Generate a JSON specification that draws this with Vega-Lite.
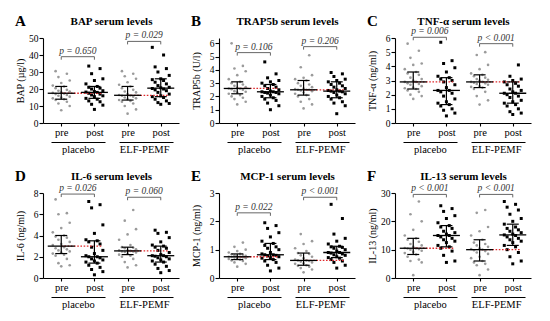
{
"$schema":"https://vega.github.io/schema/vega-lite/v6.json",
"padding":{"left":15,"top":14,"right":5,"bottom":5},
"columns":3,
"spacing":{"row":14,"column":12},
"datasets":{
"stats":[
{"p":"A","t":"placebo","s":"pre","med":17.5,"lo":14,"hi":21.5},{"p":"A","t":"placebo","s":"post","med":18,"lo":14.5,"hi":21.5},{"p":"A","t":"ELF","s":"pre","med":16.3,"lo":13.5,"hi":21.5},{"p":"A","t":"ELF","s":"post","med":20.5,"lo":15.5,"hi":26},
{"p":"B","t":"placebo","s":"pre","med":2.6,"lo":2.2,"hi":3.1},{"p":"B","t":"placebo","s":"post","med":2.35,"lo":1.9,"hi":2.9},{"p":"B","t":"ELF","s":"pre","med":2.5,"lo":2.1,"hi":3.2},{"p":"B","t":"ELF","s":"post","med":2.4,"lo":1.9,"hi":3.1},
{"p":"C","t":"placebo","s":"pre","med":2.9,"lo":2.4,"hi":3.6},{"p":"C","t":"placebo","s":"post","med":2.3,"lo":1.3,"hi":3.2},{"p":"C","t":"ELF","s":"pre","med":2.9,"lo":2.5,"hi":3.4},{"p":"C","t":"ELF","s":"post","med":2.1,"lo":1.4,"hi":2.9},
{"p":"D","t":"placebo","s":"pre","med":3.0,"lo":2.3,"hi":4.0},{"p":"D","t":"placebo","s":"post","med":2.0,"lo":1.4,"hi":3.5},{"p":"D","t":"ELF","s":"pre","med":2.55,"lo":2.2,"hi":2.9},{"p":"D","t":"ELF","s":"post","med":2.1,"lo":1.5,"hi":3.0},
{"p":"E","t":"placebo","s":"pre","med":0.75,"lo":0.65,"hi":0.85},{"p":"E","t":"placebo","s":"post","med":0.82,"lo":0.65,"hi":1.22},{"p":"E","t":"ELF","s":"pre","med":0.62,"lo":0.45,"hi":0.88},{"p":"E","t":"ELF","s":"post","med":0.9,"lo":0.72,"hi":1.12},
{"p":"F","t":"placebo","s":"pre","med":10.5,"lo":8.3,"hi":14},{"p":"F","t":"placebo","s":"post","med":15,"lo":11,"hi":18.5},{"p":"F","t":"ELF","s":"pre","med":10,"lo":6,"hi":13.5},{"p":"F","t":"ELF","s":"post","med":15.2,"lo":11.5,"hi":19}
],
"pv":[
{"p":"A","t":"placebo","label":"p = 0.650","yb":39},{"p":"A","t":"ELF","label":"p = 0.029","yb":48},
{"p":"B","t":"placebo","label":"p = 0.106","yb":5.3},{"p":"B","t":"ELF","label":"p = 0.206","yb":5.75},
{"p":"C","t":"placebo","label":"p = 0.006","yb":6.05},{"p":"C","t":"ELF","label":"p < 0.001","yb":5.6},
{"p":"D","t":"placebo","label":"p = 0.026","yb":7.9},{"p":"D","t":"ELF","label":"p = 0.060","yb":7.6},
{"p":"E","t":"placebo","label":"p = 0.022","yb":2.3},{"p":"E","t":"ELF","label":"p < 0.001","yb":2.85},
{"p":"F","t":"placebo","label":"p < 0.001","yb":29.5},{"p":"F","t":"ELF","label":"p < 0.001","yb":29.5}
],
"pts":[
{"p":"A","t":"placebo","s":"pre","v":7.5},{"p":"A","t":"placebo","s":"pre","v":10},{"p":"A","t":"placebo","s":"pre","v":11.5},{"p":"A","t":"placebo","s":"pre","v":12.5},{"p":"A","t":"placebo","s":"pre","v":13.5},{"p":"A","t":"placebo","s":"pre","v":14},{"p":"A","t":"placebo","s":"pre","v":14.5},{"p":"A","t":"placebo","s":"pre","v":15},{"p":"A","t":"placebo","s":"pre","v":15.5},{"p":"A","t":"placebo","s":"pre","v":16},{"p":"A","t":"placebo","s":"pre","v":16.5},{"p":"A","t":"placebo","s":"pre","v":17},{"p":"A","t":"placebo","s":"pre","v":17.3},{"p":"A","t":"placebo","s":"pre","v":17.7},{"p":"A","t":"placebo","s":"pre","v":18},{"p":"A","t":"placebo","s":"pre","v":18.5},{"p":"A","t":"placebo","s":"pre","v":19},{"p":"A","t":"placebo","s":"pre","v":19.5},{"p":"A","t":"placebo","s":"pre","v":20.5},{"p":"A","t":"placebo","s":"pre","v":21.5},{"p":"A","t":"placebo","s":"pre","v":22},{"p":"A","t":"placebo","s":"pre","v":23.5},{"p":"A","t":"placebo","s":"pre","v":25},{"p":"A","t":"placebo","s":"pre","v":27},{"p":"A","t":"placebo","s":"pre","v":29},{"p":"A","t":"placebo","s":"pre","v":30.5},
{"p":"A","t":"placebo","s":"post","v":8},{"p":"A","t":"placebo","s":"post","v":10.5},{"p":"A","t":"placebo","s":"post","v":11},{"p":"A","t":"placebo","s":"post","v":12.5},{"p":"A","t":"placebo","s":"post","v":13},{"p":"A","t":"placebo","s":"post","v":14},{"p":"A","t":"placebo","s":"post","v":14.5},{"p":"A","t":"placebo","s":"post","v":15.5},{"p":"A","t":"placebo","s":"post","v":16},{"p":"A","t":"placebo","s":"post","v":16.5},{"p":"A","t":"placebo","s":"post","v":17},{"p":"A","t":"placebo","s":"post","v":17.5},{"p":"A","t":"placebo","s":"post","v":18},{"p":"A","t":"placebo","s":"post","v":18.2},{"p":"A","t":"placebo","s":"post","v":18.5},{"p":"A","t":"placebo","s":"post","v":19},{"p":"A","t":"placebo","s":"post","v":20},{"p":"A","t":"placebo","s":"post","v":20.5},{"p":"A","t":"placebo","s":"post","v":21},{"p":"A","t":"placebo","s":"post","v":21.5},{"p":"A","t":"placebo","s":"post","v":23},{"p":"A","t":"placebo","s":"post","v":25},{"p":"A","t":"placebo","s":"post","v":26},{"p":"A","t":"placebo","s":"post","v":29},{"p":"A","t":"placebo","s":"post","v":32},{"p":"A","t":"placebo","s":"post","v":33.5},
{"p":"A","t":"ELF","s":"pre","v":5.5},{"p":"A","t":"ELF","s":"pre","v":8},{"p":"A","t":"ELF","s":"pre","v":10},{"p":"A","t":"ELF","s":"pre","v":11.5},{"p":"A","t":"ELF","s":"pre","v":12.5},{"p":"A","t":"ELF","s":"pre","v":13},{"p":"A","t":"ELF","s":"pre","v":13.5},{"p":"A","t":"ELF","s":"pre","v":14},{"p":"A","t":"ELF","s":"pre","v":14.5},{"p":"A","t":"ELF","s":"pre","v":15},{"p":"A","t":"ELF","s":"pre","v":15.5},{"p":"A","t":"ELF","s":"pre","v":16},{"p":"A","t":"ELF","s":"pre","v":16.2},{"p":"A","t":"ELF","s":"pre","v":16.5},{"p":"A","t":"ELF","s":"pre","v":17},{"p":"A","t":"ELF","s":"pre","v":18},{"p":"A","t":"ELF","s":"pre","v":18.5},{"p":"A","t":"ELF","s":"pre","v":19.5},{"p":"A","t":"ELF","s":"pre","v":20.5},{"p":"A","t":"ELF","s":"pre","v":21.5},{"p":"A","t":"ELF","s":"pre","v":22.5},{"p":"A","t":"ELF","s":"pre","v":24},{"p":"A","t":"ELF","s":"pre","v":26},{"p":"A","t":"ELF","s":"pre","v":27.5},{"p":"A","t":"ELF","s":"pre","v":29},{"p":"A","t":"ELF","s":"pre","v":30.5},
{"p":"A","t":"ELF","s":"post","v":11},{"p":"A","t":"ELF","s":"post","v":11.5},{"p":"A","t":"ELF","s":"post","v":12},{"p":"A","t":"ELF","s":"post","v":13},{"p":"A","t":"ELF","s":"post","v":14},{"p":"A","t":"ELF","s":"post","v":15},{"p":"A","t":"ELF","s":"post","v":15.5},{"p":"A","t":"ELF","s":"post","v":16},{"p":"A","t":"ELF","s":"post","v":17},{"p":"A","t":"ELF","s":"post","v":18},{"p":"A","t":"ELF","s":"post","v":19},{"p":"A","t":"ELF","s":"post","v":19.5},{"p":"A","t":"ELF","s":"post","v":20},{"p":"A","t":"ELF","s":"post","v":20.3},{"p":"A","t":"ELF","s":"post","v":20.7},{"p":"A","t":"ELF","s":"post","v":21},{"p":"A","t":"ELF","s":"post","v":22},{"p":"A","t":"ELF","s":"post","v":23},{"p":"A","t":"ELF","s":"post","v":24},{"p":"A","t":"ELF","s":"post","v":25},{"p":"A","t":"ELF","s":"post","v":25.5},{"p":"A","t":"ELF","s":"post","v":26},{"p":"A","t":"ELF","s":"post","v":28},{"p":"A","t":"ELF","s":"post","v":30},{"p":"A","t":"ELF","s":"post","v":32},{"p":"A","t":"ELF","s":"post","v":33},{"p":"A","t":"ELF","s":"post","v":40},{"p":"A","t":"ELF","s":"post","v":44.5},
{"p":"B","t":"placebo","s":"pre","v":1.4},{"p":"B","t":"placebo","s":"pre","v":1.6},{"p":"B","t":"placebo","s":"pre","v":1.8},{"p":"B","t":"placebo","s":"pre","v":1.9},{"p":"B","t":"placebo","s":"pre","v":2.0},{"p":"B","t":"placebo","s":"pre","v":2.1},{"p":"B","t":"placebo","s":"pre","v":2.2},{"p":"B","t":"placebo","s":"pre","v":2.3},{"p":"B","t":"placebo","s":"pre","v":2.35},{"p":"B","t":"placebo","s":"pre","v":2.4},{"p":"B","t":"placebo","s":"pre","v":2.5},{"p":"B","t":"placebo","s":"pre","v":2.55},{"p":"B","t":"placebo","s":"pre","v":2.6},{"p":"B","t":"placebo","s":"pre","v":2.6},{"p":"B","t":"placebo","s":"pre","v":2.65},{"p":"B","t":"placebo","s":"pre","v":2.7},{"p":"B","t":"placebo","s":"pre","v":2.8},{"p":"B","t":"placebo","s":"pre","v":2.9},{"p":"B","t":"placebo","s":"pre","v":3.0},{"p":"B","t":"placebo","s":"pre","v":3.1},{"p":"B","t":"placebo","s":"pre","v":3.3},{"p":"B","t":"placebo","s":"pre","v":3.6},{"p":"B","t":"placebo","s":"pre","v":3.9},{"p":"B","t":"placebo","s":"pre","v":4.1},{"p":"B","t":"placebo","s":"pre","v":4.3},{"p":"B","t":"placebo","s":"pre","v":6.0},
{"p":"B","t":"placebo","s":"post","v":1.0},{"p":"B","t":"placebo","s":"post","v":1.3},{"p":"B","t":"placebo","s":"post","v":1.5},{"p":"B","t":"placebo","s":"post","v":1.7},{"p":"B","t":"placebo","s":"post","v":1.8},{"p":"B","t":"placebo","s":"post","v":1.9},{"p":"B","t":"placebo","s":"post","v":2.0},{"p":"B","t":"placebo","s":"post","v":2.1},{"p":"B","t":"placebo","s":"post","v":2.2},{"p":"B","t":"placebo","s":"post","v":2.25},{"p":"B","t":"placebo","s":"post","v":2.3},{"p":"B","t":"placebo","s":"post","v":2.3},{"p":"B","t":"placebo","s":"post","v":2.35},{"p":"B","t":"placebo","s":"post","v":2.35},{"p":"B","t":"placebo","s":"post","v":2.4},{"p":"B","t":"placebo","s":"post","v":2.5},{"p":"B","t":"placebo","s":"post","v":2.6},{"p":"B","t":"placebo","s":"post","v":2.7},{"p":"B","t":"placebo","s":"post","v":2.8},{"p":"B","t":"placebo","s":"post","v":2.9},{"p":"B","t":"placebo","s":"post","v":3.0},{"p":"B","t":"placebo","s":"post","v":3.1},{"p":"B","t":"placebo","s":"post","v":3.2},{"p":"B","t":"placebo","s":"post","v":3.4},{"p":"B","t":"placebo","s":"post","v":3.7},{"p":"B","t":"placebo","s":"post","v":4.6},
{"p":"B","t":"ELF","s":"pre","v":1.1},{"p":"B","t":"ELF","s":"pre","v":1.4},{"p":"B","t":"ELF","s":"pre","v":1.6},{"p":"B","t":"ELF","s":"pre","v":1.8},{"p":"B","t":"ELF","s":"pre","v":2.0},{"p":"B","t":"ELF","s":"pre","v":2.1},{"p":"B","t":"ELF","s":"pre","v":2.2},{"p":"B","t":"ELF","s":"pre","v":2.3},{"p":"B","t":"ELF","s":"pre","v":2.4},{"p":"B","t":"ELF","s":"pre","v":2.45},{"p":"B","t":"ELF","s":"pre","v":2.5},{"p":"B","t":"ELF","s":"pre","v":2.5},{"p":"B","t":"ELF","s":"pre","v":2.5},{"p":"B","t":"ELF","s":"pre","v":2.55},{"p":"B","t":"ELF","s":"pre","v":2.6},{"p":"B","t":"ELF","s":"pre","v":2.7},{"p":"B","t":"ELF","s":"pre","v":2.8},{"p":"B","t":"ELF","s":"pre","v":2.9},{"p":"B","t":"ELF","s":"pre","v":3.0},{"p":"B","t":"ELF","s":"pre","v":3.2},{"p":"B","t":"ELF","s":"pre","v":3.3},{"p":"B","t":"ELF","s":"pre","v":3.4},{"p":"B","t":"ELF","s":"pre","v":3.6},{"p":"B","t":"ELF","s":"pre","v":4.2},{"p":"B","t":"ELF","s":"pre","v":5.1},
{"p":"B","t":"ELF","s":"post","v":0.7},{"p":"B","t":"ELF","s":"post","v":1.3},{"p":"B","t":"ELF","s":"post","v":1.5},{"p":"B","t":"ELF","s":"post","v":1.6},{"p":"B","t":"ELF","s":"post","v":1.8},{"p":"B","t":"ELF","s":"post","v":1.9},{"p":"B","t":"ELF","s":"post","v":2.0},{"p":"B","t":"ELF","s":"post","v":2.1},{"p":"B","t":"ELF","s":"post","v":2.2},{"p":"B","t":"ELF","s":"post","v":2.3},{"p":"B","t":"ELF","s":"post","v":2.35},{"p":"B","t":"ELF","s":"post","v":2.4},{"p":"B","t":"ELF","s":"post","v":2.4},{"p":"B","t":"ELF","s":"post","v":2.45},{"p":"B","t":"ELF","s":"post","v":2.5},{"p":"B","t":"ELF","s":"post","v":2.6},{"p":"B","t":"ELF","s":"post","v":2.7},{"p":"B","t":"ELF","s":"post","v":2.8},{"p":"B","t":"ELF","s":"post","v":2.9},{"p":"B","t":"ELF","s":"post","v":3.0},{"p":"B","t":"ELF","s":"post","v":3.1},{"p":"B","t":"ELF","s":"post","v":3.2},{"p":"B","t":"ELF","s":"post","v":3.3},{"p":"B","t":"ELF","s":"post","v":3.5},{"p":"B","t":"ELF","s":"post","v":3.7},{"p":"B","t":"ELF","s":"post","v":3.8},
{"p":"C","t":"placebo","s":"pre","v":1.7},{"p":"C","t":"placebo","s":"pre","v":1.9},{"p":"C","t":"placebo","s":"pre","v":2.0},{"p":"C","t":"placebo","s":"pre","v":2.2},{"p":"C","t":"placebo","s":"pre","v":2.3},{"p":"C","t":"placebo","s":"pre","v":2.4},{"p":"C","t":"placebo","s":"pre","v":2.45},{"p":"C","t":"placebo","s":"pre","v":2.5},{"p":"C","t":"placebo","s":"pre","v":2.6},{"p":"C","t":"placebo","s":"pre","v":2.7},{"p":"C","t":"placebo","s":"pre","v":2.75},{"p":"C","t":"placebo","s":"pre","v":2.8},{"p":"C","t":"placebo","s":"pre","v":2.9},{"p":"C","t":"placebo","s":"pre","v":2.9},{"p":"C","t":"placebo","s":"pre","v":3.0},{"p":"C","t":"placebo","s":"pre","v":3.1},{"p":"C","t":"placebo","s":"pre","v":3.2},{"p":"C","t":"placebo","s":"pre","v":3.4},{"p":"C","t":"placebo","s":"pre","v":3.5},{"p":"C","t":"placebo","s":"pre","v":3.6},{"p":"C","t":"placebo","s":"pre","v":3.8},{"p":"C","t":"placebo","s":"pre","v":4.1},{"p":"C","t":"placebo","s":"pre","v":4.2},{"p":"C","t":"placebo","s":"pre","v":4.6},{"p":"C","t":"placebo","s":"pre","v":5.1},{"p":"C","t":"placebo","s":"pre","v":5.6},
{"p":"C","t":"placebo","s":"post","v":0.5},{"p":"C","t":"placebo","s":"post","v":0.7},{"p":"C","t":"placebo","s":"post","v":0.9},{"p":"C","t":"placebo","s":"post","v":1.0},{"p":"C","t":"placebo","s":"post","v":1.2},{"p":"C","t":"placebo","s":"post","v":1.3},{"p":"C","t":"placebo","s":"post","v":1.4},{"p":"C","t":"placebo","s":"post","v":1.5},{"p":"C","t":"placebo","s":"post","v":1.7},{"p":"C","t":"placebo","s":"post","v":1.9},{"p":"C","t":"placebo","s":"post","v":2.1},{"p":"C","t":"placebo","s":"post","v":2.2},{"p":"C","t":"placebo","s":"post","v":2.3},{"p":"C","t":"placebo","s":"post","v":2.3},{"p":"C","t":"placebo","s":"post","v":2.5},{"p":"C","t":"placebo","s":"post","v":2.7},{"p":"C","t":"placebo","s":"post","v":2.9},{"p":"C","t":"placebo","s":"post","v":3.0},{"p":"C","t":"placebo","s":"post","v":3.1},{"p":"C","t":"placebo","s":"post","v":3.2},{"p":"C","t":"placebo","s":"post","v":3.3},{"p":"C","t":"placebo","s":"post","v":3.6},{"p":"C","t":"placebo","s":"post","v":3.9},{"p":"C","t":"placebo","s":"post","v":4.2},{"p":"C","t":"placebo","s":"post","v":4.4},{"p":"C","t":"placebo","s":"post","v":5.7},
{"p":"C","t":"ELF","s":"pre","v":1.3},{"p":"C","t":"ELF","s":"pre","v":1.6},{"p":"C","t":"ELF","s":"pre","v":1.9},{"p":"C","t":"ELF","s":"pre","v":2.2},{"p":"C","t":"ELF","s":"pre","v":2.4},{"p":"C","t":"ELF","s":"pre","v":2.5},{"p":"C","t":"ELF","s":"pre","v":2.55},{"p":"C","t":"ELF","s":"pre","v":2.6},{"p":"C","t":"ELF","s":"pre","v":2.7},{"p":"C","t":"ELF","s":"pre","v":2.75},{"p":"C","t":"ELF","s":"pre","v":2.8},{"p":"C","t":"ELF","s":"pre","v":2.85},{"p":"C","t":"ELF","s":"pre","v":2.9},{"p":"C","t":"ELF","s":"pre","v":2.9},{"p":"C","t":"ELF","s":"pre","v":3.0},{"p":"C","t":"ELF","s":"pre","v":3.05},{"p":"C","t":"ELF","s":"pre","v":3.1},{"p":"C","t":"ELF","s":"pre","v":3.2},{"p":"C","t":"ELF","s":"pre","v":3.3},{"p":"C","t":"ELF","s":"pre","v":3.4},{"p":"C","t":"ELF","s":"pre","v":3.5},{"p":"C","t":"ELF","s":"pre","v":3.8},{"p":"C","t":"ELF","s":"pre","v":4.1},{"p":"C","t":"ELF","s":"pre","v":4.8},{"p":"C","t":"ELF","s":"pre","v":5.0},
{"p":"C","t":"ELF","s":"post","v":0.6},{"p":"C","t":"ELF","s":"post","v":0.7},{"p":"C","t":"ELF","s":"post","v":0.8},{"p":"C","t":"ELF","s":"post","v":1.0},{"p":"C","t":"ELF","s":"post","v":1.2},{"p":"C","t":"ELF","s":"post","v":1.3},{"p":"C","t":"ELF","s":"post","v":1.4},{"p":"C","t":"ELF","s":"post","v":1.5},{"p":"C","t":"ELF","s":"post","v":1.6},{"p":"C","t":"ELF","s":"post","v":1.8},{"p":"C","t":"ELF","s":"post","v":1.9},{"p":"C","t":"ELF","s":"post","v":2.0},{"p":"C","t":"ELF","s":"post","v":2.1},{"p":"C","t":"ELF","s":"post","v":2.1},{"p":"C","t":"ELF","s":"post","v":2.2},{"p":"C","t":"ELF","s":"post","v":2.3},{"p":"C","t":"ELF","s":"post","v":2.4},{"p":"C","t":"ELF","s":"post","v":2.6},{"p":"C","t":"ELF","s":"post","v":2.7},{"p":"C","t":"ELF","s":"post","v":2.8},{"p":"C","t":"ELF","s":"post","v":2.9},{"p":"C","t":"ELF","s":"post","v":3.0},{"p":"C","t":"ELF","s":"post","v":3.1},{"p":"C","t":"ELF","s":"post","v":3.3},{"p":"C","t":"ELF","s":"post","v":4.1},
{"p":"D","t":"placebo","s":"pre","v":1.1},{"p":"D","t":"placebo","s":"pre","v":1.2},{"p":"D","t":"placebo","s":"pre","v":1.4},{"p":"D","t":"placebo","s":"pre","v":1.8},{"p":"D","t":"placebo","s":"pre","v":2.1},{"p":"D","t":"placebo","s":"pre","v":2.2},{"p":"D","t":"placebo","s":"pre","v":2.3},{"p":"D","t":"placebo","s":"pre","v":2.4},{"p":"D","t":"placebo","s":"pre","v":2.5},{"p":"D","t":"placebo","s":"pre","v":2.6},{"p":"D","t":"placebo","s":"pre","v":2.7},{"p":"D","t":"placebo","s":"pre","v":2.8},{"p":"D","t":"placebo","s":"pre","v":2.9},{"p":"D","t":"placebo","s":"pre","v":3.1},{"p":"D","t":"placebo","s":"pre","v":3.2},{"p":"D","t":"placebo","s":"pre","v":3.4},{"p":"D","t":"placebo","s":"pre","v":3.6},{"p":"D","t":"placebo","s":"pre","v":3.8},{"p":"D","t":"placebo","s":"pre","v":3.9},{"p":"D","t":"placebo","s":"pre","v":4.0},{"p":"D","t":"placebo","s":"pre","v":4.3},{"p":"D","t":"placebo","s":"pre","v":4.7},{"p":"D","t":"placebo","s":"pre","v":5.2},{"p":"D","t":"placebo","s":"pre","v":6.0},{"p":"D","t":"placebo","s":"pre","v":6.1},{"p":"D","t":"placebo","s":"pre","v":7.4},
{"p":"D","t":"placebo","s":"post","v":0.3},{"p":"D","t":"placebo","s":"post","v":0.6},{"p":"D","t":"placebo","s":"post","v":0.8},{"p":"D","t":"placebo","s":"post","v":1.0},{"p":"D","t":"placebo","s":"post","v":1.2},{"p":"D","t":"placebo","s":"post","v":1.4},{"p":"D","t":"placebo","s":"post","v":1.5},{"p":"D","t":"placebo","s":"post","v":1.6},{"p":"D","t":"placebo","s":"post","v":1.7},{"p":"D","t":"placebo","s":"post","v":1.8},{"p":"D","t":"placebo","s":"post","v":1.9},{"p":"D","t":"placebo","s":"post","v":2.0},{"p":"D","t":"placebo","s":"post","v":2.0},{"p":"D","t":"placebo","s":"post","v":2.1},{"p":"D","t":"placebo","s":"post","v":2.3},{"p":"D","t":"placebo","s":"post","v":2.6},{"p":"D","t":"placebo","s":"post","v":2.9},{"p":"D","t":"placebo","s":"post","v":3.2},{"p":"D","t":"placebo","s":"post","v":3.4},{"p":"D","t":"placebo","s":"post","v":3.5},{"p":"D","t":"placebo","s":"post","v":3.6},{"p":"D","t":"placebo","s":"post","v":4.2},{"p":"D","t":"placebo","s":"post","v":5.0},{"p":"D","t":"placebo","s":"post","v":6.6},{"p":"D","t":"placebo","s":"post","v":6.9},{"p":"D","t":"placebo","s":"post","v":7.2},
{"p":"D","t":"ELF","s":"pre","v":1.0},{"p":"D","t":"ELF","s":"pre","v":1.2},{"p":"D","t":"ELF","s":"pre","v":1.5},{"p":"D","t":"ELF","s":"pre","v":1.8},{"p":"D","t":"ELF","s":"pre","v":2.0},{"p":"D","t":"ELF","s":"pre","v":2.1},{"p":"D","t":"ELF","s":"pre","v":2.2},{"p":"D","t":"ELF","s":"pre","v":2.3},{"p":"D","t":"ELF","s":"pre","v":2.4},{"p":"D","t":"ELF","s":"pre","v":2.45},{"p":"D","t":"ELF","s":"pre","v":2.5},{"p":"D","t":"ELF","s":"pre","v":2.5},{"p":"D","t":"ELF","s":"pre","v":2.55},{"p":"D","t":"ELF","s":"pre","v":2.6},{"p":"D","t":"ELF","s":"pre","v":2.6},{"p":"D","t":"ELF","s":"pre","v":2.7},{"p":"D","t":"ELF","s":"pre","v":2.8},{"p":"D","t":"ELF","s":"pre","v":2.85},{"p":"D","t":"ELF","s":"pre","v":2.9},{"p":"D","t":"ELF","s":"pre","v":3.1},{"p":"D","t":"ELF","s":"pre","v":3.6},{"p":"D","t":"ELF","s":"pre","v":4.1},{"p":"D","t":"ELF","s":"pre","v":4.6},{"p":"D","t":"ELF","s":"pre","v":5.4},{"p":"D","t":"ELF","s":"pre","v":6.4},
{"p":"D","t":"ELF","s":"post","v":0.5},{"p":"D","t":"ELF","s":"post","v":0.7},{"p":"D","t":"ELF","s":"post","v":0.9},{"p":"D","t":"ELF","s":"post","v":1.1},{"p":"D","t":"ELF","s":"post","v":1.3},{"p":"D","t":"ELF","s":"post","v":1.5},{"p":"D","t":"ELF","s":"post","v":1.6},{"p":"D","t":"ELF","s":"post","v":1.7},{"p":"D","t":"ELF","s":"post","v":1.8},{"p":"D","t":"ELF","s":"post","v":1.9},{"p":"D","t":"ELF","s":"post","v":2.0},{"p":"D","t":"ELF","s":"post","v":2.05},{"p":"D","t":"ELF","s":"post","v":2.1},{"p":"D","t":"ELF","s":"post","v":2.1},{"p":"D","t":"ELF","s":"post","v":2.2},{"p":"D","t":"ELF","s":"post","v":2.4},{"p":"D","t":"ELF","s":"post","v":2.6},{"p":"D","t":"ELF","s":"post","v":2.8},{"p":"D","t":"ELF","s":"post","v":2.9},{"p":"D","t":"ELF","s":"post","v":3.0},{"p":"D","t":"ELF","s":"post","v":3.1},{"p":"D","t":"ELF","s":"post","v":3.4},{"p":"D","t":"ELF","s":"post","v":3.8},{"p":"D","t":"ELF","s":"post","v":4.2},{"p":"D","t":"ELF","s":"post","v":4.3},{"p":"D","t":"ELF","s":"post","v":4.5},
{"p":"E","t":"placebo","s":"pre","v":0.4},{"p":"E","t":"placebo","s":"pre","v":0.5},{"p":"E","t":"placebo","s":"pre","v":0.55},{"p":"E","t":"placebo","s":"pre","v":0.6},{"p":"E","t":"placebo","s":"pre","v":0.62},{"p":"E","t":"placebo","s":"pre","v":0.65},{"p":"E","t":"placebo","s":"pre","v":0.67},{"p":"E","t":"placebo","s":"pre","v":0.68},{"p":"E","t":"placebo","s":"pre","v":0.7},{"p":"E","t":"placebo","s":"pre","v":0.72},{"p":"E","t":"placebo","s":"pre","v":0.73},{"p":"E","t":"placebo","s":"pre","v":0.74},{"p":"E","t":"placebo","s":"pre","v":0.75},{"p":"E","t":"placebo","s":"pre","v":0.75},{"p":"E","t":"placebo","s":"pre","v":0.76},{"p":"E","t":"placebo","s":"pre","v":0.78},{"p":"E","t":"placebo","s":"pre","v":0.8},{"p":"E","t":"placebo","s":"pre","v":0.82},{"p":"E","t":"placebo","s":"pre","v":0.84},{"p":"E","t":"placebo","s":"pre","v":0.85},{"p":"E","t":"placebo","s":"pre","v":0.9},{"p":"E","t":"placebo","s":"pre","v":0.95},{"p":"E","t":"placebo","s":"pre","v":1.0},{"p":"E","t":"placebo","s":"pre","v":1.1},{"p":"E","t":"placebo","s":"pre","v":1.25},
{"p":"E","t":"placebo","s":"post","v":0.25},{"p":"E","t":"placebo","s":"post","v":0.35},{"p":"E","t":"placebo","s":"post","v":0.45},{"p":"E","t":"placebo","s":"post","v":0.55},{"p":"E","t":"placebo","s":"post","v":0.6},{"p":"E","t":"placebo","s":"post","v":0.65},{"p":"E","t":"placebo","s":"post","v":0.7},{"p":"E","t":"placebo","s":"post","v":0.72},{"p":"E","t":"placebo","s":"post","v":0.75},{"p":"E","t":"placebo","s":"post","v":0.78},{"p":"E","t":"placebo","s":"post","v":0.8},{"p":"E","t":"placebo","s":"post","v":0.82},{"p":"E","t":"placebo","s":"post","v":0.82},{"p":"E","t":"placebo","s":"post","v":0.85},{"p":"E","t":"placebo","s":"post","v":0.9},{"p":"E","t":"placebo","s":"post","v":1.0},{"p":"E","t":"placebo","s":"post","v":1.05},{"p":"E","t":"placebo","s":"post","v":1.1},{"p":"E","t":"placebo","s":"post","v":1.15},{"p":"E","t":"placebo","s":"post","v":1.22},{"p":"E","t":"placebo","s":"post","v":1.3},{"p":"E","t":"placebo","s":"post","v":1.45},{"p":"E","t":"placebo","s":"post","v":1.6},{"p":"E","t":"placebo","s":"post","v":1.75},{"p":"E","t":"placebo","s":"post","v":1.85},{"p":"E","t":"placebo","s":"post","v":1.95},
{"p":"E","t":"ELF","s":"pre","v":0.2},{"p":"E","t":"ELF","s":"pre","v":0.3},{"p":"E","t":"ELF","s":"pre","v":0.35},{"p":"E","t":"ELF","s":"pre","v":0.4},{"p":"E","t":"ELF","s":"pre","v":0.43},{"p":"E","t":"ELF","s":"pre","v":0.45},{"p":"E","t":"ELF","s":"pre","v":0.5},{"p":"E","t":"ELF","s":"pre","v":0.52},{"p":"E","t":"ELF","s":"pre","v":0.55},{"p":"E","t":"ELF","s":"pre","v":0.58},{"p":"E","t":"ELF","s":"pre","v":0.6},{"p":"E","t":"ELF","s":"pre","v":0.62},{"p":"E","t":"ELF","s":"pre","v":0.62},{"p":"E","t":"ELF","s":"pre","v":0.65},{"p":"E","t":"ELF","s":"pre","v":0.7},{"p":"E","t":"ELF","s":"pre","v":0.75},{"p":"E","t":"ELF","s":"pre","v":0.8},{"p":"E","t":"ELF","s":"pre","v":0.85},{"p":"E","t":"ELF","s":"pre","v":0.88},{"p":"E","t":"ELF","s":"pre","v":0.95},{"p":"E","t":"ELF","s":"pre","v":1.05},{"p":"E","t":"ELF","s":"pre","v":1.2},{"p":"E","t":"ELF","s":"pre","v":1.3},{"p":"E","t":"ELF","s":"pre","v":1.55},
{"p":"E","t":"ELF","s":"post","v":0.35},{"p":"E","t":"ELF","s":"post","v":0.45},{"p":"E","t":"ELF","s":"post","v":0.55},{"p":"E","t":"ELF","s":"post","v":0.6},{"p":"E","t":"ELF","s":"post","v":0.65},{"p":"E","t":"ELF","s":"post","v":0.7},{"p":"E","t":"ELF","s":"post","v":0.72},{"p":"E","t":"ELF","s":"post","v":0.75},{"p":"E","t":"ELF","s":"post","v":0.8},{"p":"E","t":"ELF","s":"post","v":0.82},{"p":"E","t":"ELF","s":"post","v":0.85},{"p":"E","t":"ELF","s":"post","v":0.88},{"p":"E","t":"ELF","s":"post","v":0.9},{"p":"E","t":"ELF","s":"post","v":0.9},{"p":"E","t":"ELF","s":"post","v":0.95},{"p":"E","t":"ELF","s":"post","v":1.0},{"p":"E","t":"ELF","s":"post","v":1.05},{"p":"E","t":"ELF","s":"post","v":1.08},{"p":"E","t":"ELF","s":"post","v":1.1},{"p":"E","t":"ELF","s":"post","v":1.12},{"p":"E","t":"ELF","s":"post","v":1.2},{"p":"E","t":"ELF","s":"post","v":1.3},{"p":"E","t":"ELF","s":"post","v":1.4},{"p":"E","t":"ELF","s":"post","v":1.55},{"p":"E","t":"ELF","s":"post","v":2.1},{"p":"E","t":"ELF","s":"post","v":2.6},
{"p":"F","t":"placebo","s":"pre","v":1},{"p":"F","t":"placebo","s":"pre","v":5.5},{"p":"F","t":"placebo","s":"pre","v":6},{"p":"F","t":"placebo","s":"pre","v":6.5},{"p":"F","t":"placebo","s":"pre","v":7.5},{"p":"F","t":"placebo","s":"pre","v":8.3},{"p":"F","t":"placebo","s":"pre","v":8.8},{"p":"F","t":"placebo","s":"pre","v":9.2},{"p":"F","t":"placebo","s":"pre","v":9.6},{"p":"F","t":"placebo","s":"pre","v":10},{"p":"F","t":"placebo","s":"pre","v":10.2},{"p":"F","t":"placebo","s":"pre","v":10.4},{"p":"F","t":"placebo","s":"pre","v":10.5},{"p":"F","t":"placebo","s":"pre","v":10.6},{"p":"F","t":"placebo","s":"pre","v":11},{"p":"F","t":"placebo","s":"pre","v":11.5},{"p":"F","t":"placebo","s":"pre","v":12},{"p":"F","t":"placebo","s":"pre","v":12.8},{"p":"F","t":"placebo","s":"pre","v":13.5},{"p":"F","t":"placebo","s":"pre","v":14},{"p":"F","t":"placebo","s":"pre","v":15},{"p":"F","t":"placebo","s":"pre","v":17},{"p":"F","t":"placebo","s":"pre","v":20},{"p":"F","t":"placebo","s":"pre","v":22.5},{"p":"F","t":"placebo","s":"pre","v":27},
{"p":"F","t":"placebo","s":"post","v":5.5},{"p":"F","t":"placebo","s":"post","v":6},{"p":"F","t":"placebo","s":"post","v":8},{"p":"F","t":"placebo","s":"post","v":9.5},{"p":"F","t":"placebo","s":"post","v":10.5},{"p":"F","t":"placebo","s":"post","v":11},{"p":"F","t":"placebo","s":"post","v":11.5},{"p":"F","t":"placebo","s":"post","v":12.5},{"p":"F","t":"placebo","s":"post","v":13},{"p":"F","t":"placebo","s":"post","v":13.5},{"p":"F","t":"placebo","s":"post","v":14},{"p":"F","t":"placebo","s":"post","v":14.5},{"p":"F","t":"placebo","s":"post","v":15},{"p":"F","t":"placebo","s":"post","v":15},{"p":"F","t":"placebo","s":"post","v":15.5},{"p":"F","t":"placebo","s":"post","v":16},{"p":"F","t":"placebo","s":"post","v":16.5},{"p":"F","t":"placebo","s":"post","v":17.5},{"p":"F","t":"placebo","s":"post","v":18},{"p":"F","t":"placebo","s":"post","v":18.5},{"p":"F","t":"placebo","s":"post","v":19.5},{"p":"F","t":"placebo","s":"post","v":21},{"p":"F","t":"placebo","s":"post","v":22},{"p":"F","t":"placebo","s":"post","v":23.5},{"p":"F","t":"placebo","s":"post","v":24.5},{"p":"F","t":"placebo","s":"post","v":25.5},
{"p":"F","t":"ELF","s":"pre","v":1},{"p":"F","t":"ELF","s":"pre","v":3},{"p":"F","t":"ELF","s":"pre","v":4.5},{"p":"F","t":"ELF","s":"pre","v":5},{"p":"F","t":"ELF","s":"pre","v":5.5},{"p":"F","t":"ELF","s":"pre","v":6},{"p":"F","t":"ELF","s":"pre","v":7},{"p":"F","t":"ELF","s":"pre","v":7.5},{"p":"F","t":"ELF","s":"pre","v":8.5},{"p":"F","t":"ELF","s":"pre","v":9},{"p":"F","t":"ELF","s":"pre","v":9.5},{"p":"F","t":"ELF","s":"pre","v":9.8},{"p":"F","t":"ELF","s":"pre","v":10},{"p":"F","t":"ELF","s":"pre","v":10.2},{"p":"F","t":"ELF","s":"pre","v":10.5},{"p":"F","t":"ELF","s":"pre","v":11},{"p":"F","t":"ELF","s":"pre","v":11.5},{"p":"F","t":"ELF","s":"pre","v":12},{"p":"F","t":"ELF","s":"pre","v":12.5},{"p":"F","t":"ELF","s":"pre","v":13.5},{"p":"F","t":"ELF","s":"pre","v":15},{"p":"F","t":"ELF","s":"pre","v":16.5},{"p":"F","t":"ELF","s":"pre","v":18},{"p":"F","t":"ELF","s":"pre","v":23},{"p":"F","t":"ELF","s":"pre","v":24},
{"p":"F","t":"ELF","s":"post","v":5},{"p":"F","t":"ELF","s":"post","v":6},{"p":"F","t":"ELF","s":"post","v":7.5},{"p":"F","t":"ELF","s":"post","v":9},{"p":"F","t":"ELF","s":"post","v":10},{"p":"F","t":"ELF","s":"post","v":11},{"p":"F","t":"ELF","s":"post","v":11.5},{"p":"F","t":"ELF","s":"post","v":12.5},{"p":"F","t":"ELF","s":"post","v":13},{"p":"F","t":"ELF","s":"post","v":13.5},{"p":"F","t":"ELF","s":"post","v":14},{"p":"F","t":"ELF","s":"post","v":14.5},{"p":"F","t":"ELF","s":"post","v":15},{"p":"F","t":"ELF","s":"post","v":15.2},{"p":"F","t":"ELF","s":"post","v":15.5},{"p":"F","t":"ELF","s":"post","v":16},{"p":"F","t":"ELF","s":"post","v":16.5},{"p":"F","t":"ELF","s":"post","v":17},{"p":"F","t":"ELF","s":"post","v":17.5},{"p":"F","t":"ELF","s":"post","v":18},{"p":"F","t":"ELF","s":"post","v":19},{"p":"F","t":"ELF","s":"post","v":20},{"p":"F","t":"ELF","s":"post","v":21},{"p":"F","t":"ELF","s":"post","v":22.5},{"p":"F","t":"ELF","s":"post","v":24},{"p":"F","t":"ELF","s":"post","v":25},{"p":"F","t":"ELF","s":"post","v":26},{"p":"F","t":"ELF","s":"post","v":27}
]
},
"concat":[
{"title":"A","width":136,"height":85,"resolve":{"scale":{"x":"independent"}},
"layer":[
{"data":{"name":"pts"},"transform":[{"filter":"datum.p=='A'"},{"calculate":"(datum.t=='placebo'?0:2)+(datum.s=='post'?1:0)","as":"x"},{"window":[{"op":"row_number","as":"r"}],"groupby":["t","s"],"sort":[{"field":"v"}]},{"calculate":"datum.x+((datum.r*3)%7-3)*0.085","as":"xj"}],
"mark":{"type":"point","filled":true,"opacity":1},
"encoding":{"x":{"field":"xj","type":"quantitative","scale":{"domain":[-0.55,3.55],"nice":false,"zero":false},"axis":{"values":[0,1,2,3],"labelExpr":"datum.value%2==0?'pre':'post'","title":null,"tickSize":3,"labelPadding":1,"labelFontSize":10.5}},
"y":{"field":"v","type":"quantitative","scale":{"domain":[0,50],"nice":false},"axis":{"values":[0,10,20,30,40,50],"title":"BAP (µg/l)"}},
"color":{"field":"s","type":"nominal","scale":{"domain":["pre","post"],"range":["#9b9b9b","#000000"]},"legend":null},
"shape":{"field":"s","type":"nominal","scale":{"domain":["pre","post"],"range":["circle","square"]},"legend":null},
"size":{"field":"s","type":"ordinal","scale":{"domain":["pre","post"],"range":[7,9]},"legend":null}}},
{"data":{"name":"stats"},"transform":[{"filter":"datum.p=='A'"},{"calculate":"(datum.t=='placebo'?0:2)+(datum.s=='post'?1:0)","as":"x"}],
"layer":[
{"transform":[{"filter":"datum.s=='pre'"},{"calculate":"datum.x+1.25","as":"xe"}],"mark":{"type":"rule","color":"#e0282b","strokeDash":[1.6,1.6],"strokeWidth":1.3},"encoding":{"x":{"field":"x","type":"quantitative","scale":{"domain":[-0.55,3.55],"nice":false,"zero":false},"axis":null},"x2":{"field":"xe"},"y":{"field":"med","type":"quantitative","axis":{"values":[0,10,20,30,40,50],"title":"BAP (µg/l)"}}}},
{"mark":{"type":"rule","color":"#000","strokeWidth":1.2},"encoding":{"x":{"field":"x","type":"quantitative","axis":null},"y":{"field":"lo","type":"quantitative","axis":{"values":[0,10,20,30,40,50],"title":"BAP (µg/l)"}},"y2":{"field":"hi"}}},
{"transform":[{"fold":["lo","hi"],"as":["k","yv"]}],"mark":{"type":"tick","orient":"horizontal","size":12,"thickness":1.2,"color":"#000","opacity":1},"encoding":{"x":{"field":"x","type":"quantitative","axis":null},"y":{"field":"yv","type":"quantitative","axis":{"values":[0,10,20,30,40,50],"title":"BAP (µg/l)"}}}},
{"mark":{"type":"tick","orient":"horizontal","size":27,"thickness":1.3,"color":"#000","opacity":1},"encoding":{"x":{"field":"x","type":"quantitative","axis":null},"y":{"field":"med","type":"quantitative","axis":{"values":[0,10,20,30,40,50],"title":"BAP (µg/l)"}}}}
]},
{"data":{"name":"pv"},"transform":[{"filter":"datum.p=='A'"},{"calculate":"datum.t=='placebo'?0:2","as":"x0"},{"calculate":"datum.x0+1","as":"x1"},{"calculate":"datum.x0+0.5","as":"xm"}],
"layer":[
{"mark":{"type":"rule","color":"#555","strokeWidth":0.9},"encoding":{"x":{"field":"x0","type":"quantitative","scale":{"domain":[-0.55,3.55],"nice":false,"zero":false},"axis":null},"x2":{"field":"x1"},"y":{"field":"yb","type":"quantitative","axis":{"values":[0,10,20,30,40,50],"title":"BAP (µg/l)"}}}},
{"transform":[{"fold":["x0","x1"],"as":["k","xe"]}],"mark":{"type":"point","shape":"M0,0L0,1","size":36,"filled":false,"color":"#555","strokeWidth":0.9,"opacity":1},"encoding":{"x":{"field":"xe","type":"quantitative","axis":null},"y":{"field":"yb","type":"quantitative","axis":{"values":[0,10,20,30,40,50],"title":"BAP (µg/l)"}}}},
{"mark":{"type":"text","baseline":"bottom","dy":-1,"fontStyle":"italic","fontSize":9.5,"color":"#333"},"encoding":{"x":{"field":"xm","type":"quantitative","axis":null},"y":{"field":"yb","type":"quantitative","axis":{"values":[0,10,20,30,40,50],"title":"BAP (µg/l)"}},"text":{"field":"label"}}}
]},
{"data":{"name":"stats"},"transform":[{"filter":"datum.p=='A'"},{"calculate":"(datum.t=='placebo'?0:2)+(datum.s=='post'?1:0)","as":"x"}],"mark":{"type":"point","opacity":0},
"encoding":{"x":{"field":"x","type":"quantitative","scale":{"domain":[-0.55,3.55],"nice":false,"zero":false},"axis":{"orient":"bottom","offset":19,"values":[0.5,2.5],"labelExpr":"datum.value<1.5?'placebo':'ELF-PEMF'","title":null,"ticks":false,"domainDash":[54,14],"domainDashOffset":60,"labelPadding":2,"labelFontSize":10.5}},"y":{"field":"med","type":"quantitative","axis":{"values":[0,10,20,30,40,50],"title":"BAP (µg/l)"}}}},
{"data":{"name":"stats"},"transform":[{"filter":"datum.p=='A'"},{"calculate":"(datum.t=='placebo'?0:2)+(datum.s=='post'?1:0)","as":"x"}],"mark":{"type":"point","opacity":0},
"encoding":{"x":{"field":"x","type":"quantitative","scale":{"domain":[-0.55,3.55],"nice":false,"zero":false},"axis":{"orient":"top","labels":false,"ticks":false,"domain":false,"title":"BAP serum levels","titleFontWeight":"bold","titleFontSize":11,"titlePadding":12}},"y":{"field":"med","type":"quantitative","axis":{"values":[0,10,20,30,40,50],"title":"BAP (µg/l)"}}}}
]},
{"title":"B","width":136,"height":85,"resolve":{"scale":{"x":"independent"}},
"layer":[
{"data":{"name":"pts"},"transform":[{"filter":"datum.p=='B'"},{"calculate":"(datum.t=='placebo'?0:2)+(datum.s=='post'?1:0)","as":"x"},{"window":[{"op":"row_number","as":"r"}],"groupby":["t","s"],"sort":[{"field":"v"}]},{"calculate":"datum.x+((datum.r*3)%7-3)*0.085","as":"xj"}],
"mark":{"type":"point","filled":true,"opacity":1},
"encoding":{"x":{"field":"xj","type":"quantitative","scale":{"domain":[-0.55,3.55],"nice":false,"zero":false},"axis":{"values":[0,1,2,3],"labelExpr":"datum.value%2==0?'pre':'post'","title":null,"tickSize":3,"labelPadding":1,"labelFontSize":10.5}},
"y":{"field":"v","type":"quantitative","scale":{"domain":[0,6.4],"nice":false},"axis":{"values":[0,1,2,3,4,5,6],"title":"TRAP5b (U/l)"}},
"color":{"field":"s","type":"nominal","scale":{"domain":["pre","post"],"range":["#9b9b9b","#000000"]},"legend":null},
"shape":{"field":"s","type":"nominal","scale":{"domain":["pre","post"],"range":["circle","square"]},"legend":null},
"size":{"field":"s","type":"ordinal","scale":{"domain":["pre","post"],"range":[7,9]},"legend":null}}},
{"data":{"name":"stats"},"transform":[{"filter":"datum.p=='B'"},{"calculate":"(datum.t=='placebo'?0:2)+(datum.s=='post'?1:0)","as":"x"}],
"layer":[
{"transform":[{"filter":"datum.s=='pre'"},{"calculate":"datum.x+1.25","as":"xe"}],"mark":{"type":"rule","color":"#e0282b","strokeDash":[1.6,1.6],"strokeWidth":1.3},"encoding":{"x":{"field":"x","type":"quantitative","scale":{"domain":[-0.55,3.55],"nice":false,"zero":false},"axis":null},"x2":{"field":"xe"},"y":{"field":"med","type":"quantitative","axis":{"values":[0,1,2,3,4,5,6],"title":"TRAP5b (U/l)"}}}},
{"mark":{"type":"rule","color":"#000","strokeWidth":1.2},"encoding":{"x":{"field":"x","type":"quantitative","axis":null},"y":{"field":"lo","type":"quantitative","axis":{"values":[0,1,2,3,4,5,6],"title":"TRAP5b (U/l)"}},"y2":{"field":"hi"}}},
{"transform":[{"fold":["lo","hi"],"as":["k","yv"]}],"mark":{"type":"tick","orient":"horizontal","size":12,"thickness":1.2,"color":"#000","opacity":1},"encoding":{"x":{"field":"x","type":"quantitative","axis":null},"y":{"field":"yv","type":"quantitative","axis":{"values":[0,1,2,3,4,5,6],"title":"TRAP5b (U/l)"}}}},
{"mark":{"type":"tick","orient":"horizontal","size":27,"thickness":1.3,"color":"#000","opacity":1},"encoding":{"x":{"field":"x","type":"quantitative","axis":null},"y":{"field":"med","type":"quantitative","axis":{"values":[0,1,2,3,4,5,6],"title":"TRAP5b (U/l)"}}}}
]},
{"data":{"name":"pv"},"transform":[{"filter":"datum.p=='B'"},{"calculate":"datum.t=='placebo'?0:2","as":"x0"},{"calculate":"datum.x0+1","as":"x1"},{"calculate":"datum.x0+0.5","as":"xm"}],
"layer":[
{"mark":{"type":"rule","color":"#555","strokeWidth":0.9},"encoding":{"x":{"field":"x0","type":"quantitative","scale":{"domain":[-0.55,3.55],"nice":false,"zero":false},"axis":null},"x2":{"field":"x1"},"y":{"field":"yb","type":"quantitative","axis":{"values":[0,1,2,3,4,5,6],"title":"TRAP5b (U/l)"}}}},
{"transform":[{"fold":["x0","x1"],"as":["k","xe"]}],"mark":{"type":"point","shape":"M0,0L0,1","size":36,"filled":false,"color":"#555","strokeWidth":0.9,"opacity":1},"encoding":{"x":{"field":"xe","type":"quantitative","axis":null},"y":{"field":"yb","type":"quantitative","axis":{"values":[0,1,2,3,4,5,6],"title":"TRAP5b (U/l)"}}}},
{"mark":{"type":"text","baseline":"bottom","dy":-1,"fontStyle":"italic","fontSize":9.5,"color":"#333"},"encoding":{"x":{"field":"xm","type":"quantitative","axis":null},"y":{"field":"yb","type":"quantitative","axis":{"values":[0,1,2,3,4,5,6],"title":"TRAP5b (U/l)"}},"text":{"field":"label"}}}
]},
{"data":{"name":"stats"},"transform":[{"filter":"datum.p=='B'"},{"calculate":"(datum.t=='placebo'?0:2)+(datum.s=='post'?1:0)","as":"x"}],"mark":{"type":"point","opacity":0},
"encoding":{"x":{"field":"x","type":"quantitative","scale":{"domain":[-0.55,3.55],"nice":false,"zero":false},"axis":{"orient":"bottom","offset":19,"values":[0.5,2.5],"labelExpr":"datum.value<1.5?'placebo':'ELF-PEMF'","title":null,"ticks":false,"domainDash":[54,14],"domainDashOffset":60,"labelPadding":2,"labelFontSize":10.5}},"y":{"field":"med","type":"quantitative","axis":{"values":[0,1,2,3,4,5,6],"title":"TRAP5b (U/l)"}}}},
{"data":{"name":"stats"},"transform":[{"filter":"datum.p=='B'"},{"calculate":"(datum.t=='placebo'?0:2)+(datum.s=='post'?1:0)","as":"x"}],"mark":{"type":"point","opacity":0},
"encoding":{"x":{"field":"x","type":"quantitative","scale":{"domain":[-0.55,3.55],"nice":false,"zero":false},"axis":{"orient":"top","labels":false,"ticks":false,"domain":false,"title":"TRAP5b serum levels","titleFontWeight":"bold","titleFontSize":11,"titlePadding":12}},"y":{"field":"med","type":"quantitative","axis":{"values":[0,1,2,3,4,5,6],"title":"TRAP5b (U/l)"}}}}
]},
{"title":"C","width":136,"height":85,"resolve":{"scale":{"x":"independent"}},
"layer":[
{"data":{"name":"pts"},"transform":[{"filter":"datum.p=='C'"},{"calculate":"(datum.t=='placebo'?0:2)+(datum.s=='post'?1:0)","as":"x"},{"window":[{"op":"row_number","as":"r"}],"groupby":["t","s"],"sort":[{"field":"v"}]},{"calculate":"datum.x+((datum.r*3)%7-3)*0.085","as":"xj"}],
"mark":{"type":"point","filled":true,"opacity":1},
"encoding":{"x":{"field":"xj","type":"quantitative","scale":{"domain":[-0.55,3.55],"nice":false,"zero":false},"axis":{"values":[0,1,2,3],"labelExpr":"datum.value%2==0?'pre':'post'","title":null,"tickSize":3,"labelPadding":1,"labelFontSize":10.5}},
"y":{"field":"v","type":"quantitative","scale":{"domain":[0,6],"nice":false},"axis":{"values":[0,1,2,3,4,5,6],"title":"TNF-α (ng/ml)"}},
"color":{"field":"s","type":"nominal","scale":{"domain":["pre","post"],"range":["#9b9b9b","#000000"]},"legend":null},
"shape":{"field":"s","type":"nominal","scale":{"domain":["pre","post"],"range":["circle","square"]},"legend":null},
"size":{"field":"s","type":"ordinal","scale":{"domain":["pre","post"],"range":[7,9]},"legend":null}}},
{"data":{"name":"stats"},"transform":[{"filter":"datum.p=='C'"},{"calculate":"(datum.t=='placebo'?0:2)+(datum.s=='post'?1:0)","as":"x"}],
"layer":[
{"transform":[{"filter":"datum.s=='pre'"},{"calculate":"datum.x+1.25","as":"xe"}],"mark":{"type":"rule","color":"#e0282b","strokeDash":[1.6,1.6],"strokeWidth":1.3},"encoding":{"x":{"field":"x","type":"quantitative","scale":{"domain":[-0.55,3.55],"nice":false,"zero":false},"axis":null},"x2":{"field":"xe"},"y":{"field":"med","type":"quantitative","axis":{"values":[0,1,2,3,4,5,6],"title":"TNF-α (ng/ml)"}}}},
{"mark":{"type":"rule","color":"#000","strokeWidth":1.2},"encoding":{"x":{"field":"x","type":"quantitative","axis":null},"y":{"field":"lo","type":"quantitative","axis":{"values":[0,1,2,3,4,5,6],"title":"TNF-α (ng/ml)"}},"y2":{"field":"hi"}}},
{"transform":[{"fold":["lo","hi"],"as":["k","yv"]}],"mark":{"type":"tick","orient":"horizontal","size":12,"thickness":1.2,"color":"#000","opacity":1},"encoding":{"x":{"field":"x","type":"quantitative","axis":null},"y":{"field":"yv","type":"quantitative","axis":{"values":[0,1,2,3,4,5,6],"title":"TNF-α (ng/ml)"}}}},
{"mark":{"type":"tick","orient":"horizontal","size":27,"thickness":1.3,"color":"#000","opacity":1},"encoding":{"x":{"field":"x","type":"quantitative","axis":null},"y":{"field":"med","type":"quantitative","axis":{"values":[0,1,2,3,4,5,6],"title":"TNF-α (ng/ml)"}}}}
]},
{"data":{"name":"pv"},"transform":[{"filter":"datum.p=='C'"},{"calculate":"datum.t=='placebo'?0:2","as":"x0"},{"calculate":"datum.x0+1","as":"x1"},{"calculate":"datum.x0+0.5","as":"xm"}],
"layer":[
{"mark":{"type":"rule","color":"#555","strokeWidth":0.9},"encoding":{"x":{"field":"x0","type":"quantitative","scale":{"domain":[-0.55,3.55],"nice":false,"zero":false},"axis":null},"x2":{"field":"x1"},"y":{"field":"yb","type":"quantitative","axis":{"values":[0,1,2,3,4,5,6],"title":"TNF-α (ng/ml)"}}}},
{"transform":[{"fold":["x0","x1"],"as":["k","xe"]}],"mark":{"type":"point","shape":"M0,0L0,1","size":36,"filled":false,"color":"#555","strokeWidth":0.9,"opacity":1},"encoding":{"x":{"field":"xe","type":"quantitative","axis":null},"y":{"field":"yb","type":"quantitative","axis":{"values":[0,1,2,3,4,5,6],"title":"TNF-α (ng/ml)"}}}},
{"mark":{"type":"text","baseline":"bottom","dy":-1,"fontStyle":"italic","fontSize":9.5,"color":"#333"},"encoding":{"x":{"field":"xm","type":"quantitative","axis":null},"y":{"field":"yb","type":"quantitative","axis":{"values":[0,1,2,3,4,5,6],"title":"TNF-α (ng/ml)"}},"text":{"field":"label"}}}
]},
{"data":{"name":"stats"},"transform":[{"filter":"datum.p=='C'"},{"calculate":"(datum.t=='placebo'?0:2)+(datum.s=='post'?1:0)","as":"x"}],"mark":{"type":"point","opacity":0},
"encoding":{"x":{"field":"x","type":"quantitative","scale":{"domain":[-0.55,3.55],"nice":false,"zero":false},"axis":{"orient":"bottom","offset":19,"values":[0.5,2.5],"labelExpr":"datum.value<1.5?'placebo':'ELF-PEMF'","title":null,"ticks":false,"domainDash":[54,14],"domainDashOffset":60,"labelPadding":2,"labelFontSize":10.5}},"y":{"field":"med","type":"quantitative","axis":{"values":[0,1,2,3,4,5,6],"title":"TNF-α (ng/ml)"}}}},
{"data":{"name":"stats"},"transform":[{"filter":"datum.p=='C'"},{"calculate":"(datum.t=='placebo'?0:2)+(datum.s=='post'?1:0)","as":"x"}],"mark":{"type":"point","opacity":0},
"encoding":{"x":{"field":"x","type":"quantitative","scale":{"domain":[-0.55,3.55],"nice":false,"zero":false},"axis":{"orient":"top","labels":false,"ticks":false,"domain":false,"title":"TNF-α serum levels","titleFontWeight":"bold","titleFontSize":11,"titlePadding":12}},"y":{"field":"med","type":"quantitative","axis":{"values":[0,1,2,3,4,5,6],"title":"TNF-α (ng/ml)"}}}}
]},
{"title":"D","width":136,"height":85,"resolve":{"scale":{"x":"independent"}},
"layer":[
{"data":{"name":"pts"},"transform":[{"filter":"datum.p=='D'"},{"calculate":"(datum.t=='placebo'?0:2)+(datum.s=='post'?1:0)","as":"x"},{"window":[{"op":"row_number","as":"r"}],"groupby":["t","s"],"sort":[{"field":"v"}]},{"calculate":"datum.x+((datum.r*3)%7-3)*0.085","as":"xj"}],
"mark":{"type":"point","filled":true,"opacity":1},
"encoding":{"x":{"field":"xj","type":"quantitative","scale":{"domain":[-0.55,3.55],"nice":false,"zero":false},"axis":{"values":[0,1,2,3],"labelExpr":"datum.value%2==0?'pre':'post'","title":null,"tickSize":3,"labelPadding":1,"labelFontSize":10.5}},
"y":{"field":"v","type":"quantitative","scale":{"domain":[0,8],"nice":false},"axis":{"values":[0,2,4,6,8],"title":"IL-6 (ng/ml)"}},
"color":{"field":"s","type":"nominal","scale":{"domain":["pre","post"],"range":["#9b9b9b","#000000"]},"legend":null},
"shape":{"field":"s","type":"nominal","scale":{"domain":["pre","post"],"range":["circle","square"]},"legend":null},
"size":{"field":"s","type":"ordinal","scale":{"domain":["pre","post"],"range":[7,9]},"legend":null}}},
{"data":{"name":"stats"},"transform":[{"filter":"datum.p=='D'"},{"calculate":"(datum.t=='placebo'?0:2)+(datum.s=='post'?1:0)","as":"x"}],
"layer":[
{"transform":[{"filter":"datum.s=='pre'"},{"calculate":"datum.x+1.25","as":"xe"}],"mark":{"type":"rule","color":"#e0282b","strokeDash":[1.6,1.6],"strokeWidth":1.3},"encoding":{"x":{"field":"x","type":"quantitative","scale":{"domain":[-0.55,3.55],"nice":false,"zero":false},"axis":null},"x2":{"field":"xe"},"y":{"field":"med","type":"quantitative","axis":{"values":[0,2,4,6,8],"title":"IL-6 (ng/ml)"}}}},
{"mark":{"type":"rule","color":"#000","strokeWidth":1.2},"encoding":{"x":{"field":"x","type":"quantitative","axis":null},"y":{"field":"lo","type":"quantitative","axis":{"values":[0,2,4,6,8],"title":"IL-6 (ng/ml)"}},"y2":{"field":"hi"}}},
{"transform":[{"fold":["lo","hi"],"as":["k","yv"]}],"mark":{"type":"tick","orient":"horizontal","size":12,"thickness":1.2,"color":"#000","opacity":1},"encoding":{"x":{"field":"x","type":"quantitative","axis":null},"y":{"field":"yv","type":"quantitative","axis":{"values":[0,2,4,6,8],"title":"IL-6 (ng/ml)"}}}},
{"mark":{"type":"tick","orient":"horizontal","size":27,"thickness":1.3,"color":"#000","opacity":1},"encoding":{"x":{"field":"x","type":"quantitative","axis":null},"y":{"field":"med","type":"quantitative","axis":{"values":[0,2,4,6,8],"title":"IL-6 (ng/ml)"}}}}
]},
{"data":{"name":"pv"},"transform":[{"filter":"datum.p=='D'"},{"calculate":"datum.t=='placebo'?0:2","as":"x0"},{"calculate":"datum.x0+1","as":"x1"},{"calculate":"datum.x0+0.5","as":"xm"}],
"layer":[
{"mark":{"type":"rule","color":"#555","strokeWidth":0.9},"encoding":{"x":{"field":"x0","type":"quantitative","scale":{"domain":[-0.55,3.55],"nice":false,"zero":false},"axis":null},"x2":{"field":"x1"},"y":{"field":"yb","type":"quantitative","axis":{"values":[0,2,4,6,8],"title":"IL-6 (ng/ml)"}}}},
{"transform":[{"fold":["x0","x1"],"as":["k","xe"]}],"mark":{"type":"point","shape":"M0,0L0,1","size":36,"filled":false,"color":"#555","strokeWidth":0.9,"opacity":1},"encoding":{"x":{"field":"xe","type":"quantitative","axis":null},"y":{"field":"yb","type":"quantitative","axis":{"values":[0,2,4,6,8],"title":"IL-6 (ng/ml)"}}}},
{"mark":{"type":"text","baseline":"bottom","dy":-1,"fontStyle":"italic","fontSize":9.5,"color":"#333"},"encoding":{"x":{"field":"xm","type":"quantitative","axis":null},"y":{"field":"yb","type":"quantitative","axis":{"values":[0,2,4,6,8],"title":"IL-6 (ng/ml)"}},"text":{"field":"label"}}}
]},
{"data":{"name":"stats"},"transform":[{"filter":"datum.p=='D'"},{"calculate":"(datum.t=='placebo'?0:2)+(datum.s=='post'?1:0)","as":"x"}],"mark":{"type":"point","opacity":0},
"encoding":{"x":{"field":"x","type":"quantitative","scale":{"domain":[-0.55,3.55],"nice":false,"zero":false},"axis":{"orient":"bottom","offset":19,"values":[0.5,2.5],"labelExpr":"datum.value<1.5?'placebo':'ELF-PEMF'","title":null,"ticks":false,"domainDash":[54,14],"domainDashOffset":60,"labelPadding":2,"labelFontSize":10.5}},"y":{"field":"med","type":"quantitative","axis":{"values":[0,2,4,6,8],"title":"IL-6 (ng/ml)"}}}},
{"data":{"name":"stats"},"transform":[{"filter":"datum.p=='D'"},{"calculate":"(datum.t=='placebo'?0:2)+(datum.s=='post'?1:0)","as":"x"}],"mark":{"type":"point","opacity":0},
"encoding":{"x":{"field":"x","type":"quantitative","scale":{"domain":[-0.55,3.55],"nice":false,"zero":false},"axis":{"orient":"top","labels":false,"ticks":false,"domain":false,"title":"IL-6 serum levels","titleFontWeight":"bold","titleFontSize":11,"titlePadding":12}},"y":{"field":"med","type":"quantitative","axis":{"values":[0,2,4,6,8],"title":"IL-6 (ng/ml)"}}}}
]},
{"title":"E","width":136,"height":85,"resolve":{"scale":{"x":"independent"}},
"layer":[
{"data":{"name":"pts"},"transform":[{"filter":"datum.p=='E'"},{"calculate":"(datum.t=='placebo'?0:2)+(datum.s=='post'?1:0)","as":"x"},{"window":[{"op":"row_number","as":"r"}],"groupby":["t","s"],"sort":[{"field":"v"}]},{"calculate":"datum.x+((datum.r*3)%7-3)*0.085","as":"xj"}],
"mark":{"type":"point","filled":true,"opacity":1},
"encoding":{"x":{"field":"xj","type":"quantitative","scale":{"domain":[-0.55,3.55],"nice":false,"zero":false},"axis":{"values":[0,1,2,3],"labelExpr":"datum.value%2==0?'pre':'post'","title":null,"tickSize":3,"labelPadding":1,"labelFontSize":10.5}},
"y":{"field":"v","type":"quantitative","scale":{"domain":[0,3],"nice":false},"axis":{"values":[0,1,2,3],"title":"MCP-1 (ng/ml)"}},
"color":{"field":"s","type":"nominal","scale":{"domain":["pre","post"],"range":["#9b9b9b","#000000"]},"legend":null},
"shape":{"field":"s","type":"nominal","scale":{"domain":["pre","post"],"range":["circle","square"]},"legend":null},
"size":{"field":"s","type":"ordinal","scale":{"domain":["pre","post"],"range":[7,9]},"legend":null}}},
{"data":{"name":"stats"},"transform":[{"filter":"datum.p=='E'"},{"calculate":"(datum.t=='placebo'?0:2)+(datum.s=='post'?1:0)","as":"x"}],
"layer":[
{"transform":[{"filter":"datum.s=='pre'"},{"calculate":"datum.x+1.25","as":"xe"}],"mark":{"type":"rule","color":"#e0282b","strokeDash":[1.6,1.6],"strokeWidth":1.3},"encoding":{"x":{"field":"x","type":"quantitative","scale":{"domain":[-0.55,3.55],"nice":false,"zero":false},"axis":null},"x2":{"field":"xe"},"y":{"field":"med","type":"quantitative","axis":{"values":[0,1,2,3],"title":"MCP-1 (ng/ml)"}}}},
{"mark":{"type":"rule","color":"#000","strokeWidth":1.2},"encoding":{"x":{"field":"x","type":"quantitative","axis":null},"y":{"field":"lo","type":"quantitative","axis":{"values":[0,1,2,3],"title":"MCP-1 (ng/ml)"}},"y2":{"field":"hi"}}},
{"transform":[{"fold":["lo","hi"],"as":["k","yv"]}],"mark":{"type":"tick","orient":"horizontal","size":12,"thickness":1.2,"color":"#000","opacity":1},"encoding":{"x":{"field":"x","type":"quantitative","axis":null},"y":{"field":"yv","type":"quantitative","axis":{"values":[0,1,2,3],"title":"MCP-1 (ng/ml)"}}}},
{"mark":{"type":"tick","orient":"horizontal","size":27,"thickness":1.3,"color":"#000","opacity":1},"encoding":{"x":{"field":"x","type":"quantitative","axis":null},"y":{"field":"med","type":"quantitative","axis":{"values":[0,1,2,3],"title":"MCP-1 (ng/ml)"}}}}
]},
{"data":{"name":"pv"},"transform":[{"filter":"datum.p=='E'"},{"calculate":"datum.t=='placebo'?0:2","as":"x0"},{"calculate":"datum.x0+1","as":"x1"},{"calculate":"datum.x0+0.5","as":"xm"}],
"layer":[
{"mark":{"type":"rule","color":"#555","strokeWidth":0.9},"encoding":{"x":{"field":"x0","type":"quantitative","scale":{"domain":[-0.55,3.55],"nice":false,"zero":false},"axis":null},"x2":{"field":"x1"},"y":{"field":"yb","type":"quantitative","axis":{"values":[0,1,2,3],"title":"MCP-1 (ng/ml)"}}}},
{"transform":[{"fold":["x0","x1"],"as":["k","xe"]}],"mark":{"type":"point","shape":"M0,0L0,1","size":36,"filled":false,"color":"#555","strokeWidth":0.9,"opacity":1},"encoding":{"x":{"field":"xe","type":"quantitative","axis":null},"y":{"field":"yb","type":"quantitative","axis":{"values":[0,1,2,3],"title":"MCP-1 (ng/ml)"}}}},
{"mark":{"type":"text","baseline":"bottom","dy":-1,"fontStyle":"italic","fontSize":9.5,"color":"#333"},"encoding":{"x":{"field":"xm","type":"quantitative","axis":null},"y":{"field":"yb","type":"quantitative","axis":{"values":[0,1,2,3],"title":"MCP-1 (ng/ml)"}},"text":{"field":"label"}}}
]},
{"data":{"name":"stats"},"transform":[{"filter":"datum.p=='E'"},{"calculate":"(datum.t=='placebo'?0:2)+(datum.s=='post'?1:0)","as":"x"}],"mark":{"type":"point","opacity":0},
"encoding":{"x":{"field":"x","type":"quantitative","scale":{"domain":[-0.55,3.55],"nice":false,"zero":false},"axis":{"orient":"bottom","offset":19,"values":[0.5,2.5],"labelExpr":"datum.value<1.5?'placebo':'ELF-PEMF'","title":null,"ticks":false,"domainDash":[54,14],"domainDashOffset":60,"labelPadding":2,"labelFontSize":10.5}},"y":{"field":"med","type":"quantitative","axis":{"values":[0,1,2,3],"title":"MCP-1 (ng/ml)"}}}},
{"data":{"name":"stats"},"transform":[{"filter":"datum.p=='E'"},{"calculate":"(datum.t=='placebo'?0:2)+(datum.s=='post'?1:0)","as":"x"}],"mark":{"type":"point","opacity":0},
"encoding":{"x":{"field":"x","type":"quantitative","scale":{"domain":[-0.55,3.55],"nice":false,"zero":false},"axis":{"orient":"top","labels":false,"ticks":false,"domain":false,"title":"MCP-1 serum levels","titleFontWeight":"bold","titleFontSize":11,"titlePadding":12}},"y":{"field":"med","type":"quantitative","axis":{"values":[0,1,2,3],"title":"MCP-1 (ng/ml)"}}}}
]},
{"title":"F","width":136,"height":85,"resolve":{"scale":{"x":"independent"}},
"layer":[
{"data":{"name":"pts"},"transform":[{"filter":"datum.p=='F'"},{"calculate":"(datum.t=='placebo'?0:2)+(datum.s=='post'?1:0)","as":"x"},{"window":[{"op":"row_number","as":"r"}],"groupby":["t","s"],"sort":[{"field":"v"}]},{"calculate":"datum.x+((datum.r*3)%7-3)*0.085","as":"xj"}],
"mark":{"type":"point","filled":true,"opacity":1},
"encoding":{"x":{"field":"xj","type":"quantitative","scale":{"domain":[-0.55,3.55],"nice":false,"zero":false},"axis":{"values":[0,1,2,3],"labelExpr":"datum.value%2==0?'pre':'post'","title":null,"tickSize":3,"labelPadding":1,"labelFontSize":10.5}},
"y":{"field":"v","type":"quantitative","scale":{"domain":[0,30],"nice":false},"axis":{"values":[0,10,20,30],"title":"IL-13 (ng/ml)"}},
"color":{"field":"s","type":"nominal","scale":{"domain":["pre","post"],"range":["#9b9b9b","#000000"]},"legend":null},
"shape":{"field":"s","type":"nominal","scale":{"domain":["pre","post"],"range":["circle","square"]},"legend":null},
"size":{"field":"s","type":"ordinal","scale":{"domain":["pre","post"],"range":[7,9]},"legend":null}}},
{"data":{"name":"stats"},"transform":[{"filter":"datum.p=='F'"},{"calculate":"(datum.t=='placebo'?0:2)+(datum.s=='post'?1:0)","as":"x"}],
"layer":[
{"transform":[{"filter":"datum.s=='pre'"},{"calculate":"datum.x+1.25","as":"xe"}],"mark":{"type":"rule","color":"#e0282b","strokeDash":[1.6,1.6],"strokeWidth":1.3},"encoding":{"x":{"field":"x","type":"quantitative","scale":{"domain":[-0.55,3.55],"nice":false,"zero":false},"axis":null},"x2":{"field":"xe"},"y":{"field":"med","type":"quantitative","axis":{"values":[0,10,20,30],"title":"IL-13 (ng/ml)"}}}},
{"mark":{"type":"rule","color":"#000","strokeWidth":1.2},"encoding":{"x":{"field":"x","type":"quantitative","axis":null},"y":{"field":"lo","type":"quantitative","axis":{"values":[0,10,20,30],"title":"IL-13 (ng/ml)"}},"y2":{"field":"hi"}}},
{"transform":[{"fold":["lo","hi"],"as":["k","yv"]}],"mark":{"type":"tick","orient":"horizontal","size":12,"thickness":1.2,"color":"#000","opacity":1},"encoding":{"x":{"field":"x","type":"quantitative","axis":null},"y":{"field":"yv","type":"quantitative","axis":{"values":[0,10,20,30],"title":"IL-13 (ng/ml)"}}}},
{"mark":{"type":"tick","orient":"horizontal","size":27,"thickness":1.3,"color":"#000","opacity":1},"encoding":{"x":{"field":"x","type":"quantitative","axis":null},"y":{"field":"med","type":"quantitative","axis":{"values":[0,10,20,30],"title":"IL-13 (ng/ml)"}}}}
]},
{"data":{"name":"pv"},"transform":[{"filter":"datum.p=='F'"},{"calculate":"datum.t=='placebo'?0:2","as":"x0"},{"calculate":"datum.x0+1","as":"x1"},{"calculate":"datum.x0+0.5","as":"xm"}],
"layer":[
{"mark":{"type":"rule","color":"#555","strokeWidth":0.9},"encoding":{"x":{"field":"x0","type":"quantitative","scale":{"domain":[-0.55,3.55],"nice":false,"zero":false},"axis":null},"x2":{"field":"x1"},"y":{"field":"yb","type":"quantitative","axis":{"values":[0,10,20,30],"title":"IL-13 (ng/ml)"}}}},
{"transform":[{"fold":["x0","x1"],"as":["k","xe"]}],"mark":{"type":"point","shape":"M0,0L0,1","size":36,"filled":false,"color":"#555","strokeWidth":0.9,"opacity":1},"encoding":{"x":{"field":"xe","type":"quantitative","axis":null},"y":{"field":"yb","type":"quantitative","axis":{"values":[0,10,20,30],"title":"IL-13 (ng/ml)"}}}},
{"mark":{"type":"text","baseline":"bottom","dy":-1,"fontStyle":"italic","fontSize":9.5,"color":"#333"},"encoding":{"x":{"field":"xm","type":"quantitative","axis":null},"y":{"field":"yb","type":"quantitative","axis":{"values":[0,10,20,30],"title":"IL-13 (ng/ml)"}},"text":{"field":"label"}}}
]},
{"data":{"name":"stats"},"transform":[{"filter":"datum.p=='F'"},{"calculate":"(datum.t=='placebo'?0:2)+(datum.s=='post'?1:0)","as":"x"}],"mark":{"type":"point","opacity":0},
"encoding":{"x":{"field":"x","type":"quantitative","scale":{"domain":[-0.55,3.55],"nice":false,"zero":false},"axis":{"orient":"bottom","offset":19,"values":[0.5,2.5],"labelExpr":"datum.value<1.5?'placebo':'ELF-PEMF'","title":null,"ticks":false,"domainDash":[54,14],"domainDashOffset":60,"labelPadding":2,"labelFontSize":10.5}},"y":{"field":"med","type":"quantitative","axis":{"values":[0,10,20,30],"title":"IL-13 (ng/ml)"}}}},
{"data":{"name":"stats"},"transform":[{"filter":"datum.p=='F'"},{"calculate":"(datum.t=='placebo'?0:2)+(datum.s=='post'?1:0)","as":"x"}],"mark":{"type":"point","opacity":0},
"encoding":{"x":{"field":"x","type":"quantitative","scale":{"domain":[-0.55,3.55],"nice":false,"zero":false},"axis":{"orient":"top","labels":false,"ticks":false,"domain":false,"title":"IL-13 serum levels","titleFontWeight":"bold","titleFontSize":11,"titlePadding":12}},"y":{"field":"med","type":"quantitative","axis":{"values":[0,10,20,30],"title":"IL-13 (ng/ml)"}}}}
]}
],
"config":{
"font":"Liberation Serif",
"view":{"stroke":null},
"axis":{"labelFont":"Liberation Serif","titleFont":"Liberation Serif","labelColor":"#000","titleColor":"#000","domainColor":"#000","tickColor":"#000","grid":false,"labelFontSize":9.5,"titleFontSize":10,"titleFontWeight":"normal","labelFlush":false,"labelOverlap":false,"domainWidth":1.1,"tickWidth":1.1},
"axisY":{"tickSize":4,"labelPadding":1,"minExtent":14,"maxExtent":14,"titlePadding":4},
"title":{"font":"Liberation Serif","fontSize":15,"fontWeight":"bold","anchor":"start","frame":"bounds","offset":-14,"color":"#000"},
"text":{"font":"Liberation Serif"}
}
}
